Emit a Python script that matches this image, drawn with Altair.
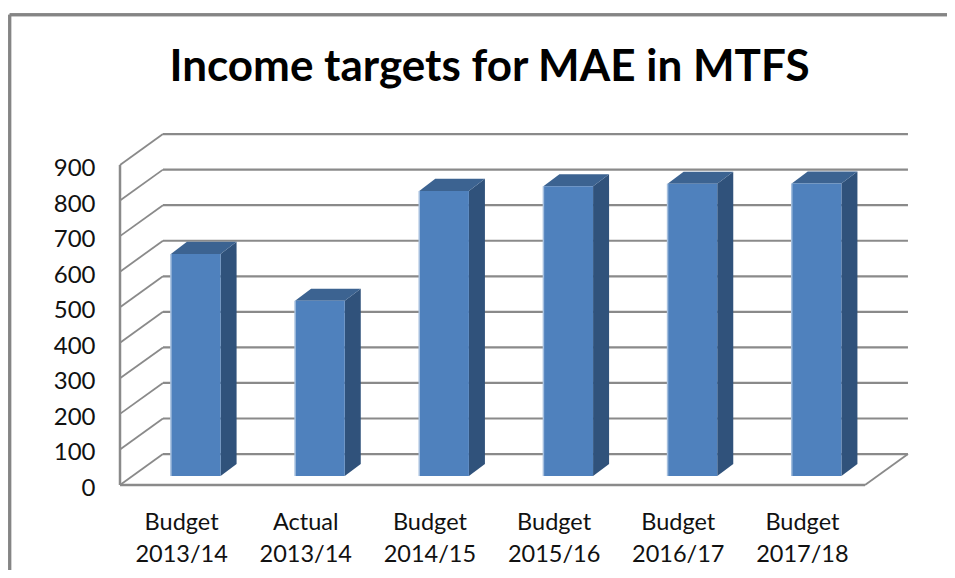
import json
import altair as alt
import pandas as pd

TITLE = "Income targets for MAE in MTFS"
categories = ["Budget\n2013/14", "Actual\n2013/14", "Budget\n2014/15",
              "Budget\n2015/16", "Budget\n2016/17", "Budget\n2017/18"]
values = [625, 493, 802, 815, 822, 823]
ticks = [0, 100, 200, 300, 400, 500, 600, 700, 800, 900]

FONT = "Lato"
GRID = "#8a8a8a"
FRONT, SIDE, TOP, EDGE = "#4f81bd", "#30527b", "#3c6391", "#a5bfde"

# projection of the pseudo-3D box, in data units
WALL_DX, WALL_DY = 0.346, 87
BAR_X0, BAR_W, BAR_Y0 = 0.41, 0.40, 25
BAR_DX, BAR_DY = 0.129, 34
N = len(categories)

x_scale = alt.Scale(domain=[0, N], nice=False, zero=False)
y_scale = alt.Scale(domain=[0, 900], nice=False, zero=False)

label_expr = f"split({json.dumps(categories)}[floor(datum.value)], '\\n')"
x_axis = alt.Axis(
    values=[i + 0.5 for i in range(N)], labelExpr=label_expr, domain=False, ticks=False, grid=False,
    labelFont=FONT, labelFontSize=23.5, labelColor="#111111", labelPadding=25, labelLineHeight=32,
    labelOverlap=False, labelFlush=False, labelBound=False, labelBaseline="top", labelAngle=0,
    labelOffset=-1)
y_axis = alt.Axis(
    values=ticks, domain=False, ticks=False, grid=False, labelFont=FONT, labelFontSize=24,
    labelColor="#111111", labelPadding=25, labelOffset=3.5, labelOverlap=False, labelFlush=False,
    labelBound=False)

X = lambda f: alt.X(f, type="quantitative", scale=x_scale, axis=x_axis, title=None)
Y = lambda f: alt.Y(f, type="quantitative", scale=y_scale, axis=y_axis, title=None)

back = pd.DataFrame({"x": [WALL_DX] * len(ticks), "x2": [N + WALL_DX] * len(ticks),
                     "y": [t + WALL_DY for t in ticks]})
diag = pd.DataFrame(
    [{"g": t, "x": 0, "y": t} for t in ticks] + [{"g": t, "x": WALL_DX, "y": t + WALL_DY} for t in ticks]
    + [{"g": "end", "x": N, "y": 0}, {"g": "end", "x": N + WALL_DX, "y": WALL_DY}]
)
bars = pd.DataFrame([{
    "i": i, "l": i + BAR_X0, "r": i + BAR_X0 + BAR_W, "b": BAR_Y0, "t": BAR_Y0 + v
} for i, v in enumerate(values)])
side = pd.DataFrame(
    [{"i": i, "x": i + BAR_X0 + BAR_W, "lo": BAR_Y0, "hi": BAR_Y0 + v} for i, v in enumerate(values)]
    + [{"i": i, "x": i + BAR_X0 + BAR_W + BAR_DX, "lo": BAR_Y0 + BAR_DY, "hi": BAR_Y0 + v + BAR_DY}
       for i, v in enumerate(values)]
)
top = pd.DataFrame(
    [{"i": i, "y": BAR_Y0 + v, "a": i + BAR_X0, "c": i + BAR_X0 + BAR_W} for i, v in enumerate(values)]
    + [{"i": i, "y": BAR_Y0 + v + BAR_DY, "a": i + BAR_X0 + BAR_DX, "c": i + BAR_X0 + BAR_W + BAR_DX}
       for i, v in enumerate(values)]
)
axis_df = pd.DataFrame({"x": [0, N], "y": [0, 0]})
wall_df = pd.DataFrame({"x": [0, 0], "y": [0, 900]})

floor_line = alt.Chart(axis_df).mark_line(color=GRID, strokeWidth=2.5).encode(x=X("x"), y=Y("y"))
wall = alt.Chart(wall_df).mark_line(color=GRID, strokeWidth=2.5).encode(x=X("x"), y=Y("y"))
back_lines = alt.Chart(back).mark_rule(color=GRID, strokeWidth=2.2).encode(x=X("x"), x2="x2", y=Y("y"))
diag_lines = alt.Chart(diag).mark_line(color=GRID, strokeWidth=1.8).encode(x=X("x"), y=Y("y"), detail="g:N")

side_faces = alt.Chart(side).mark_area(color=SIDE, opacity=1).encode(x=X("x"), y=Y("lo"), y2="hi", detail="i:N")
top_faces = alt.Chart(top).mark_area(color=TOP, opacity=1, orient="horizontal").encode(
    y=Y("y"), x=X("a"), x2="c", detail="i:N")
front_faces = alt.Chart(bars).mark_rect(color=FRONT).encode(x=X("l"), x2="r", y=Y("b"), y2="t")
left_edges = alt.Chart(bars).mark_rule(color=EDGE, strokeWidth=1.5).encode(x=X("l"), y=Y("b"), y2="t")

FRAME = "#858585"
frame_top = alt.Chart(axis_df).mark_rule(color=FRAME, strokeWidth=3).encode(
    x=alt.value(-110.3), x2=alt.value(835), y=alt.value(-150.3))
frame_left = alt.Chart(axis_df).mark_rule(color=FRAME, strokeWidth=3).encode(
    x=alt.value(-110.3), y=alt.value(-150.3), y2=alt.value(420))

chart = alt.layer(
    back_lines, diag_lines, wall, floor_line,
    side_faces, top_faces, front_faces, left_edges,
    frame_top, frame_left,
).properties(
    width=745, height=320,
    title=alt.TitleParams(TITLE, font=FONT, fontSize=44, fontWeight="bold", color="#000000",
                          anchor="middle", offset=-77, dx=-3),
    autosize=alt.AutoSizeParams(type="none"),
    padding={"left": 112, "top": 157, "right": 82, "bottom": 85},
    background="#ffffff",
).configure_view(stroke=None)

chart.save("out.html", embed_options={"renderer": "svg", "actions": False})
